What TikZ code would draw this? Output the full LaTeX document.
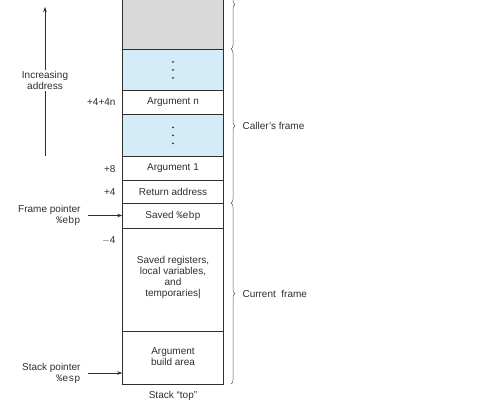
\documentclass[tikz,border=0pt]{standalone}
\usepackage{fontspec}
\setmainfont{Liberation Sans}
\setmonofont{Liberation Mono}
\usetikzlibrary{decorations.pathreplacing,arrows.meta}
\definecolor{ink}{HTML}{2E2E2E}
\definecolor{grayfill}{HTML}{D9D9DA}
\definecolor{bluefill}{HTML}{D3ECF8}
\begin{document}
\begin{tikzpicture}[x=1pt,y=-1pt,
  every node/.style={font=\fontsize{10}{11}\selectfont, text=ink},
  cell/.style={draw=ink, line width=0.6pt, minimum width=101pt, inner sep=0pt, anchor=north},
  lab/.style={anchor=east, align=right},
  ptr/.style={draw=ink, line width=0.6pt, -{Stealth[length=5pt,width=3.5pt]}},
  brc/.style={draw=ink!80, line width=0.5pt, decorate, decoration={brace, amplitude=4pt}},
  dotmark/.style={circle, fill=ink, inner sep=0pt, minimum size=2pt}]
\useasboundingbox (0,0) rectangle (500,410);
\clip (0,0) rectangle (500,410);
% cells
\fill[grayfill] (122.5,-5) rectangle (223.5,49);
\node[cell, fill=bluefill, minimum height=41pt] (b1) at (173,49) {};
\node[cell, minimum height=24pt] (argn) at (173,90) {Argument n};
\node[cell, fill=bluefill, minimum height=42pt] (b2) at (173,114) {};
\node[cell, minimum height=24pt] (arg1) at (173,156) {Argument 1};
\node[cell, minimum height=23pt] (ret) at (173,180) {Return address};
\node[cell, minimum height=25pt] (ebp) at (173,203) {Saved \texttt{\%ebp}};
\node[cell, minimum height=103pt] (saved) at (173,228) {};
\node[cell, minimum height=53pt] (build) at (173,331) {};
\node[align=center] (savedtxt) at (173,277.5) {Saved registers,\\local variables,\\and\\temporaries|};
\node[align=center] (buildtxt) at (173,356.5) {Argument\\build area};
% outer sides
\draw[ink, line width=1pt] (122.5,-5) -- (122.5,384) -- (223.5,384) -- (223.5,-5);
\draw[ink, line width=1pt] (122.5,203) -- (223.5,203);
% dots
\foreach \n in {b1,b2}{
  \node[dotmark] at ([yshift=-8pt]\n.center) {};
  \node[dotmark] at (\n.center) {};
  \node[dotmark] at ([yshift=8pt]\n.center) {};
}
% offsets
\node[lab] (o1) at (119,102) {+4+4n};
\node[lab] (o2) at (119,169) {+8};
\node[lab] (o3) at (119,192) {+4};
\node[lab] (o4) at (119,240) {$-$4};
% increasing address
\coordinate (ia0) at (45,156);
\coordinate (ia1) at (45,7);
\draw[ptr] (ia0) -- (ia1);
\node[align=center, fill=white, inner sep=1pt] (inc) at (45,80.5) {Increasing\\address};
% pointers
\node[lab] (fp) at (84,215.5) {Frame pointer\\\texttt{\%ebp}};
\draw[ptr] ([xshift=4pt]fp.east) -- (fp.east -| ebp.west);
\node[lab] (sp) at (84,373) {Stack pointer\\\texttt{\%esp}};
\draw[ptr] ([xshift=4pt]sp.east) -- (sp.east -| build.west);
\node (top) at (173,396) {Stack \textquotedblleft top\textquotedblright};
% braces
\draw[brc] (231,-40) -- (231,49);
\draw[brc] (231,49) -- (231,203);
\draw[brc] (231,203) -- (231,384);
\node[anchor=west] (caller) at (239,126) {Caller's frame};
\node[anchor=west] (current) at (239,293.5) {Current~ frame};
\end{tikzpicture}
\end{document}
